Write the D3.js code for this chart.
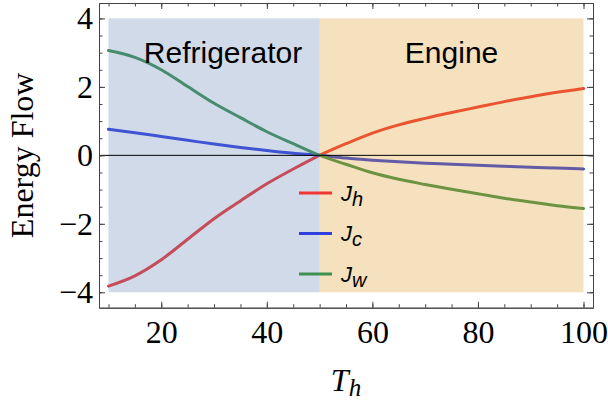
<!DOCTYPE html>
<html>
<head>
<meta charset="utf-8">
<script src="https://cdn.jsdelivr.net/npm/d3@7"></script>
<style>
  body { margin: 0; background: #fff; }
  #chart svg { display: block; }
</style>
</head>
<body>
<div id="chart"></div>
<script>
const temps = [10, 15, 20, 25, 30, 35, 40, 45, 50, 55, 60, 65, 70, 75, 80, 85, 90, 95, 100];
const jh = [-3.82, -3.52, -3.05, -2.45, -1.85, -1.33, -0.83, -0.4, 0, 0.34, 0.65, 0.89, 1.08, 1.25, 1.41, 1.57, 1.71, 1.84, 1.95];
const jc = [0.76, 0.66, 0.55, 0.44, 0.33, 0.23, 0.14, 0.06, 0, -0.08, -0.14, -0.19, -0.23, -0.26, -0.29, -0.32, -0.35, -0.37, -0.4];
const jw = [3.06, 2.86, 2.5, 2.01, 1.52, 1.1, 0.69, 0.34, 0, -0.26, -0.51, -0.7, -0.85, -0.99, -1.12, -1.25, -1.36, -1.47, -1.55];

const seriesNames = ["h", "c", "w"];
const seriesColors = ["#f03535", "#3040e0", "#3c9050"];

const regions = [
  { label: "Refrigerator", from: 10, to: 50, color: "#6284b2" },
  { label: "Engine", from: 50, to: 100, color: "#de9b23" }
];

const xTicks = [20, 40, 60, 80, 100];
const yTicks = [-4, -2, 0, 2, 4];

const width = 608, height = 401;
const frame = { left: 99, right: 593, top: 3, bottom: 307.7 };

const x = d3.scaleLinear().domain([8.2, 101.8]).range([frame.left, frame.right]);
const y = d3.scaleLinear().domain([-4.45, 4.45]).range([frame.bottom, frame.top]);

const svg = d3.select("#chart").append("svg")
  .attr("width", width)
  .attr("height", height);

const serif = "'Liberation Serif', 'Times New Roman', serif";
const sans = "'Liberation Sans', Arial, sans-serif";

// curves
const line = d3.line()
  .x((d, i) => x(temps[i]))
  .y(d => y(d))
  .curve(d3.curveMonotoneX);

[jh, jc, jw].forEach((vals, i) => {
  svg.append("path")
    .attr("d", line(vals))
    .attr("fill", "none")
    .attr("stroke", seriesColors[i])
    .attr("stroke-width", 3)
    .attr("stroke-linecap", "round");
});

// shaded regions sit on top of the curves, semi transparent
svg.selectAll(".region").data(regions).enter().append("rect")
  .attr("class", "region")
  .attr("x", d => x(d.from))
  .attr("y", y(4))
  .attr("width", d => x(d.to) - x(d.from))
  .attr("height", y(-4) - y(4))
  .attr("fill", d => d.color)
  .attr("fill-opacity", 0.3);

// the refrigerator label sits a bit right of its region's middle
const labelShift = [9, 0];
svg.selectAll(".region-label").data(regions).enter().append("text")
  .attr("x", (d, i) => x((d.from + d.to) / 2) + labelShift[i])
  .attr("y", 63)
  .attr("text-anchor", "middle")
  .style("font-family", sans)
  .style("font-size", "30px")
  .attr("fill", "#000")
  .text(d => d.label);

// zero line
svg.append("line")
  .attr("x1", frame.left).attr("x2", frame.right)
  .attr("y1", y(0)).attr("y2", y(0))
  .attr("stroke", "#000")
  .attr("stroke-width", 1);

// frame with inward ticks
const frameColor = "#444";
const minorX = d3.range(10, 101, 5);
const minorY = d3.range(-4, 4.01, 0.5);

function styleAxis(g) {
  g.select(".domain").attr("stroke", frameColor);
  g.selectAll(".tick line").attr("stroke", frameColor);
}

const gBottom = svg.append("g").attr("transform", `translate(0,${frame.bottom})`);
gBottom.append("g").call(d3.axisBottom(x).tickValues(minorX).tickSizeInner(-3.5).tickSizeOuter(0).tickFormat(""))
  .call(styleAxis);
gBottom.append("g").call(d3.axisBottom(x).tickValues(xTicks).tickSizeInner(-6).tickSizeOuter(0).tickPadding(13))
  .call(styleAxis)
  .selectAll("text").style("font-family", serif).style("font-size", "32px").attr("fill", "#000");

const gTop = svg.append("g").attr("transform", `translate(0,${frame.top})`);
gTop.append("g").call(d3.axisTop(x).tickValues(minorX).tickSizeInner(-3.5).tickSizeOuter(0).tickFormat("")).call(styleAxis);
gTop.append("g").call(d3.axisTop(x).tickValues(xTicks).tickSizeInner(-6).tickSizeOuter(0).tickFormat("")).call(styleAxis);

const gLeft = svg.append("g").attr("transform", `translate(${frame.left},0)`);
gLeft.append("g").call(d3.axisLeft(y).tickValues(minorY).tickSizeInner(-3.5).tickSizeOuter(0).tickFormat("")).call(styleAxis);
gLeft.append("g").call(d3.axisLeft(y).tickValues(yTicks).tickSizeInner(-6).tickSizeOuter(0).tickPadding(6))
  .call(styleAxis)
  .selectAll("text").style("font-family", serif).style("font-size", "32px").attr("fill", "#000");

const gRight = svg.append("g").attr("transform", `translate(${frame.right},0)`);
gRight.append("g").call(d3.axisRight(y).tickValues(minorY).tickSizeInner(-3.5).tickSizeOuter(0).tickFormat("")).call(styleAxis);
gRight.append("g").call(d3.axisRight(y).tickValues(yTicks).tickSizeInner(-6).tickSizeOuter(0).tickFormat("")).call(styleAxis);

// axis titles
svg.append("text")
  .attr("transform", `translate(33,${(frame.top + frame.bottom) / 2}) rotate(-90)`)
  .attr("text-anchor", "middle")
  .style("font-family", serif)
  .style("font-size", "32px")
  .text("Energy Flow");

const xTitle = svg.append("text")
  .attr("x", (frame.left + frame.right) / 2)
  .attr("y", 391)
  .attr("text-anchor", "middle")
  .style("font-family", serif)
  .style("font-style", "italic")
  .style("font-size", "32px");
xTitle.append("tspan").text("T");
xTitle.append("tspan").attr("dy", 5).style("font-size", "25px").text("h");

// legend
const legend = svg.append("g").attr("transform", "translate(299,193)");
seriesNames.forEach((name, i) => {
  const row = legend.append("g").attr("transform", `translate(0,${i * 40.5})`);
  row.append("line")
    .attr("x1", 0).attr("x2", 33)
    .attr("stroke", seriesColors[i])
    .attr("stroke-width", 3);
  const t = row.append("text")
    .attr("x", 42)
    .attr("y", 7.5)
    .style("font-family", sans)
    .style("font-style", "italic")
    .style("font-size", "22px");
  t.append("tspan").text("J");
  t.append("tspan").attr("dy", 5).style("font-size", "20px").text(name);
});
</script>
</body>
</html>
